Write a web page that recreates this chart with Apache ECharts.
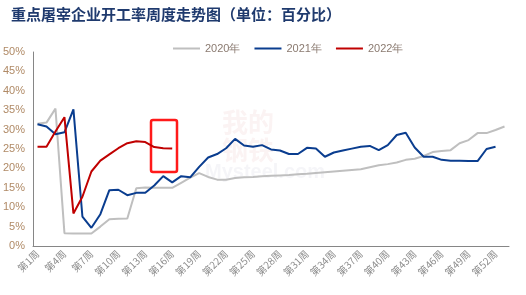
<!DOCTYPE html>
<html><head><meta charset="utf-8">
<script src="https://cdn.jsdelivr.net/npm/echarts@6/dist/echarts.min.js"></script>
<style>html,body{margin:0;padding:0;background:#fff}#c{width:526px;height:295px}</style>
</head><body><div id="c"></div>
<script>
var weeks = [];
for (var i = 1; i <= 53; i++) weeks.push('第' + i + '周');
var seriesNames = ['2020年', '2021年', '2022年'];
var y2020 = [31.5,31.8,35.4,3.3,3.2,3.2,3.2,5.0,6.9,7.0,7.1,14.9,15.1,15.0,15.0,15.0,16.3,17.6,18.8,17.8,17.1,17.1,17.5,17.7,17.8,18.0,18.1,18.2,18.3,18.5,18.6,18.8,19.0,19.2,19.4,19.6,19.8,20.3,20.8,21.1,21.5,22.2,22.5,23.2,24.2,24.5,24.7,26.5,27.3,29.1,29.1,29.9,30.8];
var y2021 = [31.4,30.8,28.8,29.3,35.2,7.6,4.7,8.2,14.4,14.5,13.1,13.7,13.7,15.6,18.0,16.4,18.0,17.7,20.4,22.8,23.7,25.2,27.6,25.9,25.6,26.0,24.9,24.6,23.7,23.7,25.3,25.1,23.0,24.1,24.6,25.1,25.6,25.8,24.7,26.0,28.6,29.2,25.4,23.0,23.0,22.2,22.0,22.0,21.9,21.9,25.0,25.6];
var y2022 = [25.6,25.6,29.5,33.2,8.4,12.7,19.2,22.0,23.6,25.2,26.5,27.0,26.8,25.5,25.2,25.1];
var yTicks = [0,5,10,15,20,25,30,35,40,45,50];

var chart = echarts.init(document.getElementById('c'));
chart.setOption({
  animation: false,
  backgroundColor: '#fff',
  title: {
    text: '重点屠宰企业开工率周度走势图（单位：百分比）',
    left: 6, top: 2,
    textStyle: {fontFamily: 'Noto Sans CJK SC', fontWeight: 'bold', fontSize: 15, color: '#1f3a6e'}
  },
  legend: {
    data: seriesNames,
    left: 168, top: 38,
    itemWidth: 27, itemHeight: 2, itemGap: 14,
    icon: 'rect',
    textStyle: {fontFamily: 'Liberation Sans', fontSize: 11, color: '#8a7a70'}
  },
  grid: {left: 29, right: 17, top: 52, bottom: 49},
  xAxis: {
    type: 'category', data: weeks, boundaryGap: true,
    axisLine: {lineStyle: {color: '#868686', width: 1}},
    axisTick: {show: false},
    axisLabel: {interval: 2, rotate: 45, fontSize: 10, color: '#8c8c8c', fontFamily: 'Noto Sans CJK SC', margin: 6}
  },
  yAxis: {
    type: 'value', min: 0, max: 50, interval: 5,
    axisLine: {show: true, lineStyle: {color: '#868686', width: 1}},
    axisTick: {show: false},
    splitLine: {show: false},
    axisLabel: {formatter: '{value}%', fontSize: 11, color: '#b08a66', fontFamily: 'Liberation Sans', margin: 8}
  },
  series: [
    {name: seriesNames[0], type: 'line', data: y2020, symbol: 'none', lineStyle: {color: '#bfbfbf', width: 2}, itemStyle: {color: '#bfbfbf'}},
    {name: seriesNames[1], type: 'line', data: y2021, symbol: 'none', lineStyle: {color: '#0a3d8f', width: 2}, itemStyle: {color: '#0a3d8f'}},
    {name: seriesNames[2], type: 'line', data: y2022, symbol: 'none', lineStyle: {color: '#c00000', width: 2}, itemStyle: {color: '#c00000'}}
  ],
  graphic: [
    {type: 'text', left: 222, top: 108, z: -1, style: {text: '我的\n钢铁', font: 'bold 26px "Noto Sans CJK SC"', fill: 'rgba(200,80,80,0.07)', lineHeight: 28}},
    {type: 'text', left: 205, top: 162, z: -1, style: {text: 'Mysteel.com', font: 'bold 20px "Liberation Sans"', fill: 'rgba(120,120,160,0.07)'}},
    {type: 'rect', shape: {x: 151, y: 120, width: 26, height: 52, r: 2}, style: {fill: 'none', stroke: '#ff1a1a', lineWidth: 2.5}}
  ]
});
</script></body></html>
